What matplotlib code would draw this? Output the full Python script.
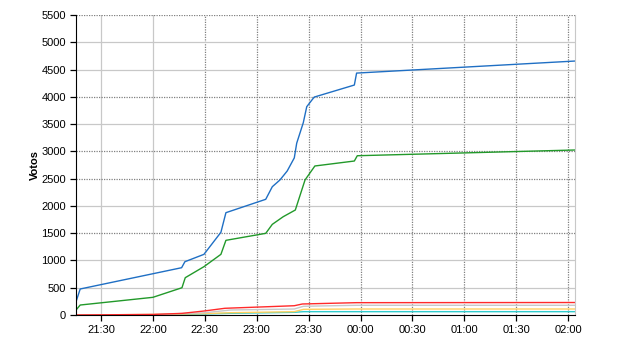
import matplotlib
matplotlib.use("Agg")
import matplotlib.pyplot as plt

# time in minutes after 21:00
blue_t = [15.6, 18.0, 76.6, 78.5, 89.5, 99.3, 102.2, 125.2, 129.0, 133.4, 137.6, 141.7, 143.1, 146.9, 148.9, 153.2, 176.4, 177.7, 303.9]
blue_v = [244, 477, 867, 977, 1112, 1516, 1876, 2121, 2352, 2475, 2640, 2880, 3150, 3525, 3819, 3995, 4216, 4435, 4656]

green_t = [15.6, 18.0, 60.0, 76.8, 78.7, 89.5, 99.3, 102.2, 125.2, 129.0, 135.3, 142.3, 147.9, 153.6, 176.4, 178.1, 303.9]
green_v = [92, 183, 324, 500, 684, 886, 1112, 1369, 1497, 1662, 1802, 1925, 2475, 2732, 2823, 2920, 3025]

red_t = [15.6, 60.0, 76.8, 89.5, 101.6, 141.7, 146.4, 177.7, 303.9]
red_v = [0, 10, 30, 73, 123, 170, 202, 226, 229]

gray_t = [15.6, 60.0, 89.5, 105.0, 141.7, 147.0, 177.7, 303.9]
gray_v = [0, 8, 40, 92, 110, 160, 178, 178]

yellow_t = [15.6, 60.0, 89.5, 105.0, 141.7, 147.0, 177.7, 303.9]
yellow_v = [0, 10, 25, 42, 61, 104, 110, 110]

cyan_t = [15.6, 60.0, 89.5, 105.0, 141.7, 147.0, 303.9]
cyan_v = [0, 5, 18, 31, 49, 61, 61]

xtick_pos = [30, 60, 90, 120, 150, 180, 210, 240, 270, 300]
xtick_labels = ["21:30", "22:00", "22:30", "23:00", "23:30", "00:00", "00:30", "01:00", "01:30", "02:00"]
ytick_pos = list(range(0, 5501, 500))

plt.rcParams['font.family'] = ['Liberation Sans', 'DejaVu Sans']

fig = plt.figure(figsize=(6.4, 3.5), dpi=100)
ax = fig.add_axes([75.7/640, 35/350, (575-75.7)/640, 300/350])

solid_v = [30, 60]
for x in xtick_pos:
    if x in solid_v:
        ax.axvline(x, color="#c8c8c8", lw=0.9, zorder=0)
    else:
        ax.axvline(x, color="#808080", lw=0.9, ls=(0, (1, 1)), zorder=0)
dotted_h = [5500, 4000, 3000, 2500, 1500]
for y in ytick_pos[1:]:
    if y in dotted_h:
        ax.axhline(y, color="#808080", lw=0.9, ls=(0, (1, 1)), zorder=0)
    else:
        ax.axhline(y, color="#c8c8c8", lw=0.9, zorder=0)

ax.plot(cyan_t, cyan_v, color="#30cccc", lw=1.0)
ax.plot(yellow_t, yellow_v, color="#ffd060", lw=1.0)
ax.plot(gray_t, gray_v, color="#c8c8c8", lw=1.0)
ax.plot(red_t, red_v, color="#ff2a2a", lw=1.0)
ax.plot(green_t, green_v, color="#22992a", lw=1.0)
ax.plot(blue_t, blue_v, color="#1f6fc4", lw=1.0)

ax.set_xlim(15.4, 303.9)
ax.set_ylim(0, 5500)
ax.set_xticks(xtick_pos)
ax.set_xticklabels(xtick_labels)
ax.set_yticks(ytick_pos)
ax.tick_params(axis="both", labelsize=8, length=4, width=0.9, colors="black", pad=3)
ax.spines["top"].set_visible(False)
ax.spines["right"].set_color("#c8c8c8")
ax.spines["left"].set_color("black")
ax.spines["bottom"].set_color("black")
ax.set_ylabel("Votos", fontsize=8, fontweight="bold", labelpad=1)

fig.savefig("out.png", dpi=100)
